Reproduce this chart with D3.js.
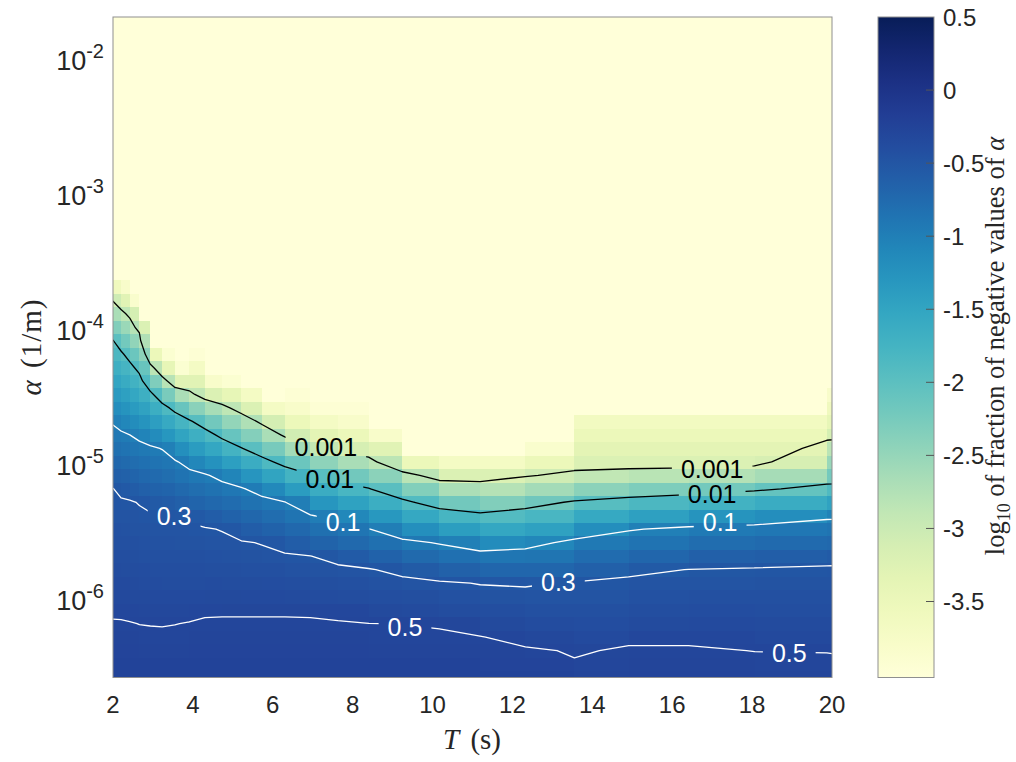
<!DOCTYPE html>
<html>
<head>
<meta charset="utf-8">
<script src="https://cdn.jsdelivr.net/npm/d3@7"></script>
<style>
  body { margin: 0; background: #fff; }
  text { font-family: 'Liberation Sans', Arial, sans-serif; fill: #262626; }
  text.serif, text.serif tspan { font-family: 'Liberation Serif', 'Times New Roman', serif; }
</style>
</head>
<body>
<svg id="chart" width="1016" height="762"></svg>
<script>
// wave period grid (s), vertices of the pcolor cells
const periods = [2.00, 2.20, 2.42, 2.66, 2.93, 3.23, 3.55, 3.91, 4.30, 4.73, 5.21, 5.73, 6.30,
  6.94, 7.63, 8.40, 9.24, 10.17, 11.19, 12.32, 13.55, 14.91, 16.41, 18.06, 19.87, 21.86]

// log10 of alpha (1/m), one per row
const logAlpha = [-6.6, -6.5, -6.4, -6.3, -6.2, -6.1, -6.0, -5.9, -5.8, -5.7, -5.6, -5.5, -5.4,
  -5.3, -5.2, -5.1, -5.0, -4.9, -4.8, -4.7, -4.6, -4.5, -4.4, -4.3, -4.2, -4.1, -4.0, -3.9,
  -3.8, -3.7, -3.6, -3.5, -3.4, -3.3, -3.2, -3.1, -3.0, -2.9, -2.8, -2.7, -2.6, -2.5, -2.4,
  -2.3, -2.2, -2.1, -2.0, -1.9, -1.8, -1.7]

// log10 fraction of negative alpha, per period column, from the lowest alpha up.
// rows past the end of a column had no negative values at all
const fracLog = [
  [-0.25, -0.26, -0.27, -0.285, -0.296, -0.311, -0.34, -0.36, -0.38, -0.41, -0.43, -0.45, -0.48, -0.50, -0.52, -0.62, -0.72, -0.82, -0.92, -1.03, -1.19, -1.35, -1.51, -1.67, -1.83, -1.99, -2.33, -2.67, -3.03, -3.60],
  [-0.25, -0.26, -0.27, -0.285, -0.296, -0.313, -0.34, -0.36, -0.39, -0.41, -0.44, -0.46, -0.48, -0.51, -0.55, -0.65, -0.75, -0.86, -0.96, -1.10, -1.26, -1.43, -1.60, -1.77, -1.94, -2.21, -2.54, -2.87, -3.30, -3.80],
  [-0.25, -0.26, -0.27, -0.285, -0.298, -0.318, -0.35, -0.37, -0.39, -0.42, -0.44, -0.47, -0.49, -0.51, -0.59, -0.69, -0.79, -0.90, -1.00, -1.18, -1.36, -1.54, -1.72, -1.90, -2.14, -2.46, -2.77, -3.12, -3.85],
  [-0.25, -0.26, -0.28, -0.290, -0.302, -0.33, -0.35, -0.38, -0.40, -0.43, -0.45, -0.47, -0.50, -0.53, -0.63, -0.73, -0.83, -0.93, -1.06, -1.26, -1.47, -1.67, -1.87, -2.11, -2.42, -2.73, -3.20],
  [-0.25, -0.26, -0.28, -0.292, -0.303, -0.33, -0.36, -0.38, -0.41, -0.43, -0.46, -0.48, -0.51, -0.56, -0.66, -0.76, -0.86, -0.96, -1.16, -1.41, -1.65, -1.90, -2.31, -2.83, -3.50],
  [-0.25, -0.26, -0.28, -0.292, -0.304, -0.33, -0.36, -0.39, -0.41, -0.44, -0.46, -0.49, -0.51, -0.59, -0.69, -0.80, -0.90, -1.01, -1.30, -1.58, -1.86, -2.26, -2.80, -3.40, -3.90],
  [-0.25, -0.26, -0.28, -0.292, -0.302, -0.33, -0.36, -0.39, -0.41, -0.44, -0.47, -0.49, -0.52, -0.63, -0.74, -0.86, -0.97, -1.20, -1.49, -1.77, -2.11, -2.68, -3.30, -3.90],
  [-0.25, -0.26, -0.27, -0.285, -0.299, -0.316, -0.36, -0.39, -0.41, -0.44, -0.47, -0.50, -0.55, -0.68, -0.80, -0.92, -1.10, -1.38, -1.67, -1.95, -2.40, -2.89, -3.30, -3.70, -3.95],
  [-0.25, -0.26, -0.27, -0.28, -0.294, -0.310, -0.35, -0.38, -0.42, -0.45, -0.48, -0.51, -0.60, -0.73, -0.85, -0.97, -1.24, -1.54, -1.84, -2.20, -2.65, -3.20, -3.80],
  [-0.25, -0.26, -0.27, -0.28, -0.293, -0.309, -0.35, -0.39, -0.42, -0.46, -0.49, -0.53, -0.66, -0.78, -0.91, -1.08, -1.42, -1.75, -2.10, -2.48, -2.86, -3.40, -3.90],
  [-0.25, -0.26, -0.27, -0.28, -0.293, -0.309, -0.36, -0.39, -0.43, -0.47, -0.51, -0.60, -0.72, -0.85, -0.97, -1.28, -1.63, -1.98, -2.35, -2.72, -3.20, -3.70],
  [-0.25, -0.26, -0.27, -0.28, -0.293, -0.309, -0.36, -0.40, -0.44, -0.49, -0.53, -0.66, -0.79, -0.91, -1.12, -1.49, -1.86, -2.25, -2.67, -3.10, -3.70],
  [-0.25, -0.26, -0.27, -0.28, -0.293, -0.309, -0.37, -0.41, -0.46, -0.50, -0.60, -0.73, -0.87, -0.99, -1.37, -1.74, -2.14, -2.61, -3.07, -3.50, -3.80, -3.95],
  [-0.25, -0.26, -0.27, -0.28, -0.294, -0.310, -0.38, -0.42, -0.47, -0.52, -0.67, -0.82, -0.98, -1.29, -1.63, -1.97, -2.44, -2.92, -3.35, -3.70, -3.95],
  [-0.25, -0.26, -0.27, -0.285, -0.297, -0.315, -0.39, -0.44, -0.49, -0.58, -0.74, -0.89, -1.11, -1.46, -1.80, -2.20, -2.66, -3.13, -3.50, -3.80, -3.95],
  [-0.25, -0.26, -0.28, -0.29, -0.3005, -0.35, -0.41, -0.46, -0.51, -0.66, -0.82, -0.99, -1.32, -1.65, -1.98, -2.41, -2.84, -3.30, -3.80],
  [-0.25, -0.26, -0.28, -0.29, -0.302, -0.37, -0.42, -0.48, -0.57, -0.75, -0.93, -1.20, -1.55, -1.90, -2.34, -2.82, -3.50],
  [-0.25, -0.26, -0.28, -0.29, -0.308, -0.39, -0.45, -0.50, -0.65, -0.83, -1.02, -1.40, -1.78, -2.20, -2.68, -3.20, -3.70],
  [-0.25, -0.27, -0.28, -0.297, -0.35, -0.41, -0.47, -0.53, -0.71, -0.90, -1.16, -1.54, -1.91, -2.33, -2.77, -3.20, -3.70],
  [-0.26, -0.275, -0.29, -0.33, -0.38, -0.43, -0.48, -0.54, -0.71, -0.88, -1.10, -1.45, -1.80, -2.18, -2.61, -3.04, -3.50, -3.85],
  [-0.285, -0.296, -0.307, -0.36, -0.40, -0.44, -0.48, -0.51, -0.64, -0.78, -0.93, -1.19, -1.57, -1.95, -2.41, -2.89, -3.20, -3.35, -3.50, -3.65],
  [-0.27, -0.28, -0.294, -0.313, -0.37, -0.41, -0.45, -0.49, -0.56, -0.71, -0.86, -1.02, -1.43, -1.83, -2.30, -2.81, -3.20, -3.35, -3.50, -3.65],
  [-0.27, -0.28, -0.294, -0.313, -0.36, -0.40, -0.44, -0.48, -0.52, -0.64, -0.79, -0.94, -1.27, -1.72, -2.21, -2.75, -3.20, -3.35, -3.50, -3.65],
  [-0.28, -0.29, -0.302, -0.34, -0.37, -0.41, -0.44, -0.47, -0.51, -0.61, -0.76, -0.91, -1.19, -1.62, -2.07, -2.64, -3.15, -3.35, -3.50, -3.65],
  [-0.28, -0.292, -0.303, -0.34, -0.37, -0.41, -0.44, -0.47, -0.50, -0.58, -0.73, -0.87, -1.05, -1.47, -1.88, -2.22, -2.52, -2.82, -3.12, -3.40, -3.60, -3.80],
  [-0.29, -0.30, -0.32, -0.35, -0.38, -0.41, -0.44, -0.47, -0.50, -0.57, -0.71, -0.85, -1.03, -1.44, -1.85, -2.15, -2.42, -2.68, -2.94, -3.25, -3.60, -3.90],
]

// contour levels (fraction) and their line colour
const levels = [0.001, 0.01, 0.1, 0.3, 0.5]
const levelColors = ['#000', '#000', '#fff', '#fff', '#fff']

// inline contour labels: period, log10 alpha, level index
const contourLabels = [
  { T: 7.33, la: -4.889, level: 0 },
  { T: 17.0, la: -5.053, level: 0 },
  { T: 7.43, la: -5.130, level: 1 },
  { T: 17.0, la: -5.242, level: 1 },
  { T: 7.76, la: -5.449, level: 2 },
  { T: 17.2, la: -5.449, level: 2 },
  { T: 3.53, la: -5.405, level: 3 },
  { T: 13.15, la: -5.892, level: 3 },
  { T: 9.31, la: -6.225, level: 4 },
  { T: 18.93, la: -6.418, level: 4 },
]

const xTicks = [2, 4, 6, 8, 10, 12, 14, 16, 18, 20]
const yTickExps = [-6, -5, -4, -3, -2]
const cbarTicks = [0.5, 0, -0.5, -1, -1.5, -2, -2.5, -3, -3.5]
const cbarRange = [-4.02, 0.5]

// layout
const plot = { left: 113, right: 832, top: 17, bottom: 677.5 }
const cbar = { left: 878, width: 56 }
const floorValue = -5

const svg = d3.select('#chart')
const defs = svg.append('defs')

const x = d3.scaleLinear().domain([2, 20]).range([plot.left, plot.right])
const y = d3.scaleLog()
  .domain([10 ** -6.6, 10 ** -1.7])
  .range([plot.bottom, plot.top])
const color = d3.scaleSequential(d3.interpolateYlGnBu).domain(cbarRange).clamp(true)

defs.append('clipPath')
  .attr('id', 'plotClip')
  .append('rect')
  .attr('x', plot.left)
  .attr('y', plot.top)
  .attr('width', plot.right - plot.left)
  .attr('height', plot.bottom - plot.top)

function value(j, k) {
  const v = fracLog[k][j]
  return v === undefined ? floorValue : v
}

// pcolor cells
const cells = []
for (let k = 0; k < periods.length - 1; k++) {
  for (let j = 0; j < logAlpha.length; j++) {
    cells.push({ k, j, v: value(j, k) })
  }
}

const rowTop = j => y(10 ** (logAlpha[j] + 0.05))
const rowBottom = j => y(10 ** (logAlpha[j] - 0.05))

svg.append('g')
  .attr('clip-path', 'url(#plotClip)')
  .selectAll('rect')
  .data(cells)
  .join('rect')
  .attr('x', d => x(periods[d.k]))
  .attr('width', d => x(periods[d.k + 1]) - x(periods[d.k]) + 0.5)
  .attr('y', d => rowTop(d.j))
  .attr('height', d => rowBottom(d.j) - rowTop(d.j) + 0.5)
  .attr('fill', d => color(d.v))
  .attr('shape-rendering', 'crispEdges')

// marching squares on the vertex grid
function contourSegments(level) {
  const segs = []
  const px = k => x(periods[k])
  const py = j => y(10 ** logAlpha[j])
  for (let j = 0; j < logAlpha.length - 1; j++) {
    for (let k = 0; k < periods.length - 1; k++) {
      const corners = [[k, j], [k + 1, j], [k + 1, j + 1], [k, j + 1]]
      const pts = []
      for (let e = 0; e < 4; e++) {
        const [k0, j0] = corners[e]
        const [k1, j1] = corners[(e + 1) % 4]
        const v0 = value(j0, k0)
        const v1 = value(j1, k1)
        if ((v0 < level) !== (v1 < level)) {
          const t = (level - v0) / (v1 - v0)
          pts.push([px(k0) + t * (px(k1) - px(k0)), py(j0) + t * (py(j1) - py(j0))])
        }
      }
      if (pts.length === 2) segs.push(pts)
      else if (pts.length === 4) {
        segs.push([pts[0], pts[1]])
        segs.push([pts[2], pts[3]])
      }
    }
  }
  return segs
}

const labelFont = 25
const mask = defs.append('mask').attr('id', 'labelMask')
  .attr('maskUnits', 'userSpaceOnUse')
  .attr('x', 0).attr('y', 0).attr('width', 1016).attr('height', 762)
mask.append('rect').attr('width', 1016).attr('height', 762).attr('fill', '#fff')

const contourGroup = svg.append('g').attr('clip-path', 'url(#plotClip)')
  .append('g').attr('mask', 'url(#labelMask)')

levels.forEach((lv, i) => {
  const segs = contourSegments(Math.log10(lv))
  contourGroup.append('path')
    .attr('d', segs.map(s => `M${s[0][0]},${s[0][1]}L${s[1][0]},${s[1][1]}`).join(''))
    .attr('fill', 'none')
    .attr('stroke', levelColors[i])
    .attr('stroke-width', 1.3)
    .attr('stroke-linecap', 'round')
})

const labelGroup = svg.append('g')
contourLabels.forEach(d => {
  const cx = x(d.T)
  const cy = y(10 ** d.la)
  const t = labelGroup.append('text')
    .attr('x', cx)
    .attr('y', cy + labelFont * 0.36)
    .attr('text-anchor', 'middle')
    .style('font-size', labelFont + 'px')
    .style('fill', levelColors[d.level])
    .text(String(levels[d.level]))
  const w = t.node().getComputedTextLength()
  mask.append('rect')
    .attr('x', cx - w / 2 - 9)
    .attr('y', cy - 13)
    .attr('width', w + 18)
    .attr('height', 26)
    .attr('fill', '#000')
})

// axes box
svg.append('rect')
  .attr('x', plot.left)
  .attr('y', plot.top)
  .attr('width', plot.right - plot.left)
  .attr('height', plot.bottom - plot.top)
  .attr('fill', 'none')
  .attr('stroke', '#8f8f8f')
  .attr('stroke-width', 1)

// x tick labels
svg.append('g')
  .selectAll('text')
  .data(xTicks)
  .join('text')
  .attr('x', d => x(d))
  .attr('y', 713)
  .attr('text-anchor', 'middle')
  .style('font-size', '24px')
  .text(d => d)

// y tick labels 10^n
const yLabels = svg.append('g')
  .selectAll('text')
  .data(yTickExps)
  .join('text')
  .attr('x', 104)
  .attr('y', d => y(10 ** d) + 13)
  .attr('text-anchor', 'end')
  .style('font-size', '27px')
yLabels.append('tspan').text('10')
yLabels.append('tspan')
  .attr('dy', -12)
  .style('font-size', '20px')
  .text(d => '-' + Math.abs(d))

// axis titles
const xTitle = svg.append('text')
  .attr('class', 'serif')
  .attr('x', 472)
  .attr('y', 749)
  .attr('text-anchor', 'middle')
  .style('font-size', '29px')
  .style('word-spacing', '4px')
xTitle.append('tspan').style('font-style', 'italic').text('T')
xTitle.append('tspan').text(' (s)')

const yTitle = svg.append('text')
  .attr('class', 'serif')
  .attr('transform', 'translate(41,347) rotate(-90)')
  .attr('text-anchor', 'middle')
  .style('font-size', '29px')
  .style('letter-spacing', '1px')
  .style('word-spacing', '3px')
yTitle.append('tspan').style('font-style', 'italic').text('α')
yTitle.append('tspan').text(' (1/m)')

// colorbar
const cy = d3.scaleLinear().domain(cbarRange).range([plot.bottom, plot.top])
const grad = defs.append('linearGradient')
  .attr('id', 'cbarGrad')
  .attr('x1', 0).attr('y1', 1).attr('x2', 0).attr('y2', 0)
d3.range(0, 1.0001, 0.05).forEach(t => {
  grad.append('stop')
    .attr('offset', t)
    .attr('stop-color', d3.interpolateYlGnBu(t))
})
svg.append('rect')
  .attr('x', cbar.left)
  .attr('y', plot.top)
  .attr('width', cbar.width)
  .attr('height', plot.bottom - plot.top)
  .attr('fill', 'url(#cbarGrad)')
  .attr('stroke', '#8f8f8f')
  .attr('stroke-width', 1)

svg.append('g')
  .selectAll('line')
  .data(cbarTicks.filter(d => d < 0.5))
  .join('line')
  .attr('x1', cbar.left + cbar.width - 8)
  .attr('x2', cbar.left + cbar.width)
  .attr('y1', d => cy(d))
  .attr('y2', d => cy(d))
  .attr('stroke', '#555')
  .attr('stroke-width', 1)

svg.append('g')
  .selectAll('text')
  .data(cbarTicks)
  .join('text')
  .attr('x', cbar.left + cbar.width + 9)
  .attr('y', d => cy(d) + 8.5)
  .style('font-size', '24px')
  .text(d => d)

const cbarTitle = svg.append('text')
  .attr('class', 'serif')
  .attr('transform', 'translate(1004,346) rotate(-90)')
  .attr('text-anchor', 'middle')
  .style('font-size', '26.5px')
cbarTitle.append('tspan').text('log')
cbarTitle.append('tspan').attr('dy', 6).style('font-size', '18px').text('10')
cbarTitle.append('tspan').attr('dy', -6).text(' of fraction of negative values of ')
cbarTitle.append('tspan').style('font-style', 'italic').text('α')
</script>
</body>
</html>
